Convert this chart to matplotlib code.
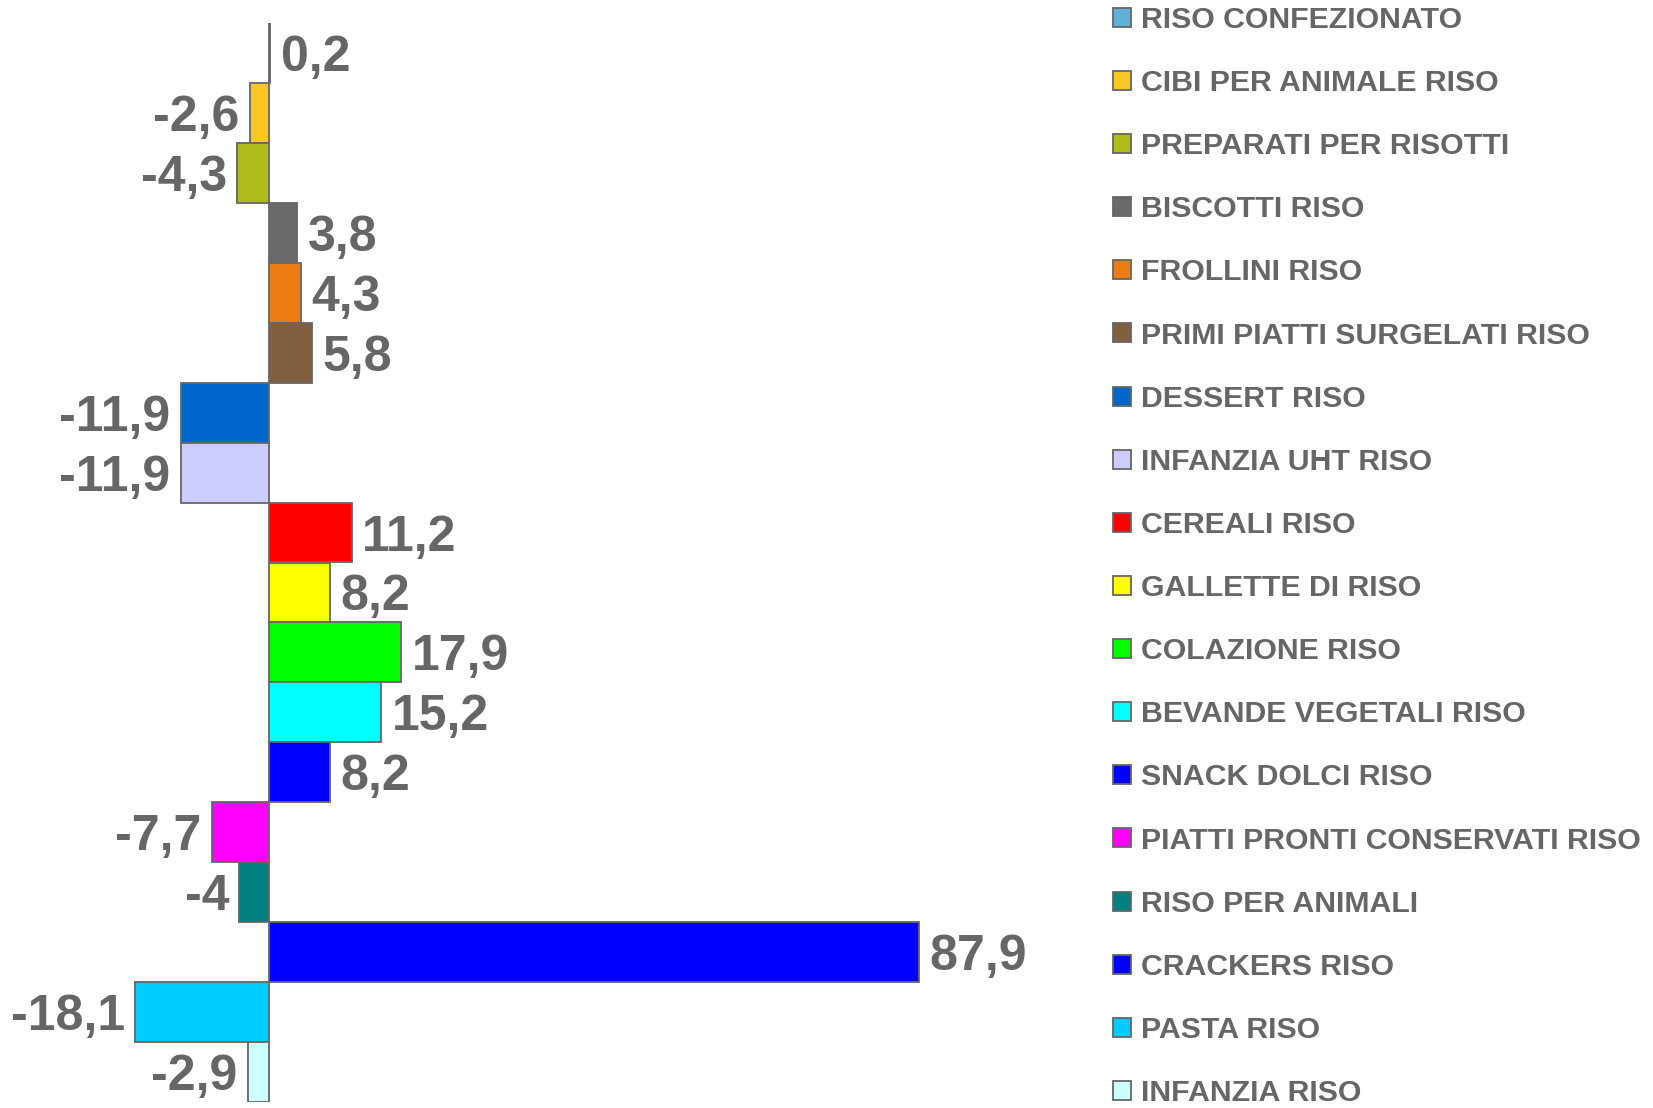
import matplotlib
matplotlib.use("Agg")
import matplotlib.pyplot as plt

categories = [
    "RISO CONFEZIONATO", "CIBI PER ANIMALE RISO", "PREPARATI PER RISOTTI",
    "BISCOTTI RISO", "FROLLINI RISO", "PRIMI PIATTI SURGELATI RISO",
    "DESSERT RISO", "INFANZIA UHT RISO", "CEREALI RISO", "GALLETTE DI RISO",
    "COLAZIONE RISO", "BEVANDE VEGETALI RISO", "SNACK DOLCI RISO",
    "PIATTI PRONTI CONSERVATI RISO", "RISO PER ANIMALI", "CRACKERS RISO",
    "PASTA RISO", "INFANZIA RISO",
]
values = [0.2, -2.6, -4.3, 3.8, 4.3, 5.8, -11.9, -11.9, 11.2, 8.2,
          17.9, 15.2, 8.2, -7.7, -4.0, 87.9, -18.1, -2.9]
value_labels = ["0,2", "-2,6", "-4,3", "3,8", "4,3", "5,8", "-11,9", "-11,9",
                "11,2", "8,2", "17,9", "15,2", "8,2", "-7,7", "-4", "87,9",
                "-18,1", "-2,9"]
colors = ["#60B0D8", "#F9C623", "#B0BC1C", "#6A6A6A", "#EC7C14", "#82603F",
          "#0066CC", "#CCCCFF", "#FF0000", "#FFFF00", "#00FF00", "#00FFFF",
          "#0000FF", "#FF00FF", "#008080", "#0000FF", "#00CCFF", "#CCFFFF"]

GRAY = "#666666"
plt.rcParams["font.family"] = ["Liberation Sans", "DejaVu Sans"]
plt.rcParams["font.weight"] = "bold"

W, H = 1653, 1108
fig = plt.figure(figsize=(W / 100, H / 100), dpi=100)
fig.patch.set_facecolor("white")

px_per_unit = 7.395
zero_px = 269
ax_w_px = 1100
ax = fig.add_axes([0, (H - 1102) / H, ax_w_px / W, 1079 / H])
ax.set_xlim(-zero_px / px_per_unit, (ax_w_px - zero_px) / px_per_unit)
pos = list(range(len(values)))
ax.set_ylim(len(values) - 0.5, -0.5)
bars = ax.barh(pos, values, height=1.0, color=colors, edgecolor=GRAY,
               linewidth=1.3)
ax.axis("off")

for p, v, lab in zip(pos, values, value_labels):
    off = 7.5 if v >= 0 else -7.5
    ax.annotate(lab, xy=(v, p), xytext=(off, 0), textcoords="offset points",
                ha="left" if v >= 0 else "right", va="center_baseline",
                fontsize=36, fontweight="bold", color=GRAY)

leg = fig.legend(list(bars.patches), categories, loc="upper left",
                 bbox_to_anchor=(1113 / W, 1 - 6 / H), frameon=False,
                 prop={"family": "Liberation Sans", "weight": "bold", "size": 21.8},
                 handlelength=0.59, handleheight=0.59, handletextpad=0.33,
                 labelspacing=1.16, borderpad=0, borderaxespad=0)
for t in leg.get_texts():
    t.set_color(GRAY)

fig.savefig("out.png", dpi=100, facecolor="white")
